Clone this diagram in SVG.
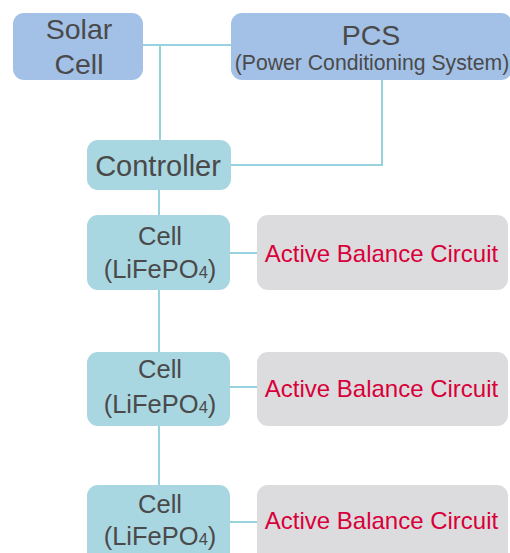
<svg xmlns="http://www.w3.org/2000/svg" width="510" height="553" viewBox="0 0 510 553">
<style>
text{font-family:"Liberation Sans",Arial,sans-serif;fill:#4a4a4a;text-anchor:middle}
.sys{fill:#a3c1e6}
.cel{fill:#a8d6e1}
.abc{fill:#dcdcde}
.red{fill:#d8003a}
.ln{stroke:#97d2de;stroke-width:2;fill:none}
</style>
<rect width="510" height="553" fill="#ffffff"/>
<g id="connectors">
<path class="ln" d="M143 45H231"/>
<path class="ln" d="M160 45V140"/>
<path class="ln" d="M382 80V165H231"/>
<path class="ln" d="M159 190V215"/>
<path class="ln" d="M159 290V352"/>
<path class="ln" d="M159 426V485"/>
<path class="ln" d="M230 253H257"/>
<path class="ln" d="M230 387H257"/>
<path class="ln" d="M230 522H257"/>
</g>
<g id="solar">
<rect class="sys" x="13" y="13" width="130" height="67" rx="11"/>
<text x="79" y="39" font-size="28.5">Solar</text>
<text x="79" y="74" font-size="28.5">Cell</text>
</g>
<g id="pcs">
<rect class="sys" x="231" y="13" width="281" height="67" rx="11"/>
<text x="371" y="45" font-size="28.5">PCS</text>
<text x="372" y="70" font-size="21.2">(Power Conditioning System)</text>
</g>
<g id="controller">
<rect class="cel" x="87" y="140" width="144" height="50" rx="11"/>
<text x="158" y="176" font-size="29">Controller</text>
</g>
<g id="cell1">
<rect class="cel" x="87" y="215" width="143" height="75" rx="11"/>
<text x="160" y="245" font-size="25.5">Cell</text>
<text x="160" y="278" font-size="25.5">(LiFePO<tspan font-size="16.5">4</tspan>)</text>
</g>
<g id="abc1">
<rect class="abc" x="257" y="215" width="251" height="75" rx="11"/>
<text class="red" x="381.5" y="262" font-size="24">Active Balance Circuit</text>
</g>
<g id="cell2">
<rect class="cel" x="87" y="352" width="143" height="74" rx="11"/>
<text x="160" y="378" font-size="25.5">Cell</text>
<text x="160" y="413" font-size="25.5">(LiFePO<tspan font-size="16.5">4</tspan>)</text>
</g>
<g id="abc2">
<rect class="abc" x="257" y="352" width="251" height="74" rx="11"/>
<text class="red" x="381.5" y="397" font-size="24">Active Balance Circuit</text>
</g>
<g id="cell3">
<rect class="cel" x="87" y="485" width="143" height="80" rx="11"/>
<text x="160" y="513" font-size="25.5">Cell</text>
<text x="160" y="545" font-size="25.5">(LiFePO<tspan font-size="16.5">4</tspan>)</text>
</g>
<g id="abc3">
<rect class="abc" x="257" y="485" width="251" height="80" rx="11"/>
<text class="red" x="381.5" y="529" font-size="24">Active Balance Circuit</text>
</g>
</svg>
